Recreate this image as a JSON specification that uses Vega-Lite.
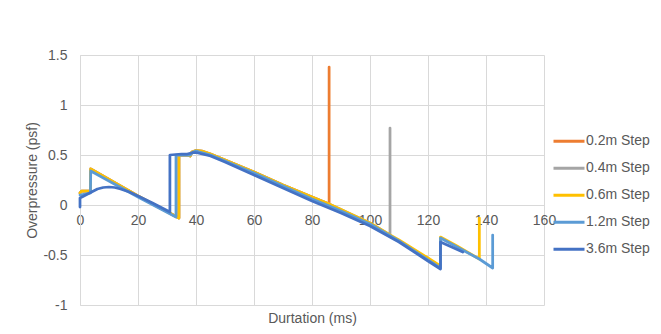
{
  "$schema": "https://vega.github.io/schema/vega-lite/v6.json",
  "autosize": {"type": "none"},
  "padding": {"left": 80, "top": 55, "right": 117, "bottom": 29},
  "width": 464,
  "height": 250,
  "background": "white",
  "config": {
    "view": {"stroke": null},
    "font": "Liberation Sans"
  },
  "data": {"values": [
    {"s":"0.2m Step","t":0,"p":0.12},{"s":"0.2m Step","t":0.5,"p":0.14},{"s":"0.2m Step","t":3.6,"p":0.14},{"s":"0.2m Step","t":3.7,"p":0.36},{"s":"0.2m Step","t":20,"p":0.09},{"s":"0.2m Step","t":34.1,"p":-0.13},{"s":"0.2m Step","t":34.1,"p":0.5},{"s":"0.2m Step","t":37,"p":0.5},{"s":"0.2m Step","t":38,"p":0.49},{"s":"0.2m Step","t":38.6,"p":0.53},{"s":"0.2m Step","t":40,"p":0.545},{"s":"0.2m Step","t":42,"p":0.54},{"s":"0.2m Step","t":45,"p":0.51},{"s":"0.2m Step","t":50,"p":0.45},{"s":"0.2m Step","t":60,"p":0.33},{"s":"0.2m Step","t":70,"p":0.2},{"s":"0.2m Step","t":80,"p":0.08},{"s":"0.2m Step","t":85.9,"p":0.01},{"s":"0.2m Step","t":85.9,"p":1.38},

    {"s":"0.4m Step","t":0,"p":0.12},{"s":"0.4m Step","t":0.5,"p":0.14},{"s":"0.4m Step","t":3.6,"p":0.14},{"s":"0.4m Step","t":3.7,"p":0.36},{"s":"0.4m Step","t":20,"p":0.09},{"s":"0.4m Step","t":34.1,"p":-0.13},{"s":"0.4m Step","t":34.1,"p":0.5},{"s":"0.4m Step","t":37,"p":0.5},{"s":"0.4m Step","t":38,"p":0.49},{"s":"0.4m Step","t":38.6,"p":0.53},{"s":"0.4m Step","t":40,"p":0.545},{"s":"0.4m Step","t":42,"p":0.54},{"s":"0.4m Step","t":45,"p":0.51},{"s":"0.4m Step","t":50,"p":0.45},{"s":"0.4m Step","t":60,"p":0.33},{"s":"0.4m Step","t":70,"p":0.2},{"s":"0.4m Step","t":80,"p":0.08},{"s":"0.4m Step","t":85.9,"p":0.01},{"s":"0.4m Step","t":90,"p":-0.045},{"s":"0.4m Step","t":100,"p":-0.18},{"s":"0.4m Step","t":106.9,"p":-0.3},{"s":"0.4m Step","t":106.9,"p":0.77},

    {"s":"0.6m Step","t":0,"p":0.12},{"s":"0.6m Step","t":0.5,"p":0.14},{"s":"0.6m Step","t":3.6,"p":0.14},{"s":"0.6m Step","t":3.7,"p":0.36},{"s":"0.6m Step","t":20,"p":0.09},{"s":"0.6m Step","t":34.1,"p":-0.13},{"s":"0.6m Step","t":34.1,"p":0.5},{"s":"0.6m Step","t":37,"p":0.5},{"s":"0.6m Step","t":38,"p":0.49},{"s":"0.6m Step","t":38.6,"p":0.53},{"s":"0.6m Step","t":40,"p":0.545},{"s":"0.6m Step","t":42,"p":0.54},{"s":"0.6m Step","t":45,"p":0.51},{"s":"0.6m Step","t":50,"p":0.45},{"s":"0.6m Step","t":60,"p":0.33},{"s":"0.6m Step","t":70,"p":0.2},{"s":"0.6m Step","t":80,"p":0.08},{"s":"0.6m Step","t":85.9,"p":0.01},{"s":"0.6m Step","t":90,"p":-0.045},{"s":"0.6m Step","t":100,"p":-0.18},{"s":"0.6m Step","t":106.9,"p":-0.3},{"s":"0.6m Step","t":110,"p":-0.35},{"s":"0.6m Step","t":120,"p":-0.53},{"s":"0.6m Step","t":124.3,"p":-0.61},{"s":"0.6m Step","t":124.3,"p":-0.32},{"s":"0.6m Step","t":130,"p":-0.41},{"s":"0.6m Step","t":137.7,"p":-0.54},{"s":"0.6m Step","t":137.7,"p":-0.13},

    {"s":"1.2m Step","t":0,"p":0.1},{"s":"1.2m Step","t":3.6,"p":0.12},{"s":"1.2m Step","t":3.7,"p":0.34},{"s":"1.2m Step","t":20,"p":0.08},{"s":"1.2m Step","t":33.1,"p":-0.12},{"s":"1.2m Step","t":33.1,"p":0.5},{"s":"1.2m Step","t":37,"p":0.5},{"s":"1.2m Step","t":38,"p":0.5},{"s":"1.2m Step","t":39,"p":0.53},{"s":"1.2m Step","t":40,"p":0.54},{"s":"1.2m Step","t":45,"p":0.5},{"s":"1.2m Step","t":50,"p":0.44},{"s":"1.2m Step","t":60,"p":0.32},{"s":"1.2m Step","t":70,"p":0.19},{"s":"1.2m Step","t":80,"p":0.06},{"s":"1.2m Step","t":86,"p":-0.01},{"s":"1.2m Step","t":90,"p":-0.06},{"s":"1.2m Step","t":100,"p":-0.19},{"s":"1.2m Step","t":110,"p":-0.36},{"s":"1.2m Step","t":120,"p":-0.55},{"s":"1.2m Step","t":124.3,"p":-0.63},{"s":"1.2m Step","t":124.3,"p":-0.33},{"s":"1.2m Step","t":130,"p":-0.42},{"s":"1.2m Step","t":137.7,"p":-0.54},{"s":"1.2m Step","t":142.3,"p":-0.63},{"s":"1.2m Step","t":142.3,"p":-0.3},

    {"s":"3.6m Step","t":0,"p":-0.02},{"s":"3.6m Step","t":0,"p":0.07},{"s":"3.6m Step","t":2,"p":0.1},{"s":"3.6m Step","t":4,"p":0.13},{"s":"3.6m Step","t":6,"p":0.16},{"s":"3.6m Step","t":8,"p":0.175},{"s":"3.6m Step","t":10,"p":0.18},{"s":"3.6m Step","t":12,"p":0.175},{"s":"3.6m Step","t":14,"p":0.16},{"s":"3.6m Step","t":17,"p":0.13},{"s":"3.6m Step","t":20,"p":0.09},{"s":"3.6m Step","t":25,"p":0.02},{"s":"3.6m Step","t":31,"p":-0.07},{"s":"3.6m Step","t":31,"p":0.5},{"s":"3.6m Step","t":35,"p":0.51},{"s":"3.6m Step","t":37,"p":0.51},{"s":"3.6m Step","t":39,"p":0.525},{"s":"3.6m Step","t":40,"p":0.525},{"s":"3.6m Step","t":45,"p":0.49},{"s":"3.6m Step","t":50,"p":0.43},{"s":"3.6m Step","t":60,"p":0.3},{"s":"3.6m Step","t":70,"p":0.17},{"s":"3.6m Step","t":80,"p":0.04},{"s":"3.6m Step","t":90,"p":-0.08},{"s":"3.6m Step","t":100,"p":-0.21},{"s":"3.6m Step","t":110,"p":-0.37},{"s":"3.6m Step","t":120,"p":-0.56},{"s":"3.6m Step","t":124.3,"p":-0.64},{"s":"3.6m Step","t":124.3,"p":-0.37},{"s":"3.6m Step","t":132,"p":-0.47}
  ]},
  "mark": {"type": "line", "strokeWidth": 2.75, "strokeCap": "round", "strokeJoin": "round"},
  "encoding": {
    "x": {
      "field": "t", "type": "quantitative",
      "scale": {"domain": [0, 160], "nice": false, "zero": false},
      "axis": {
        "values": [0, 20, 40, 60, 80, 100, 120, 140, 160],
        "offset": -100,
        "grid": true, "gridColor": "#D9D9D9", "gridWidth": 1,
        "domain": true, "domainColor": "#D9D9D9", "domainWidth": 1,
        "ticks": false,
        "labelFont": "Liberation Sans", "labelFontSize": 14, "labelColor": "#595959", "labelPadding": 8,
        "labelFlush": false,
        "title": "Durtation (ms)",
        "titleFont": "Liberation Sans", "titleFontSize": 14, "titleFontWeight": "normal", "titleColor": "#595959",
        "titleBaseline": "middle", "titleX": 232, "titleY": 113
      }
    },
    "y": {
      "field": "p", "type": "quantitative",
      "scale": {"domain": [-1, 1.5], "nice": false, "zero": false},
      "axis": {
        "values": [-1, -0.5, 0, 0.5, 1, 1.5],
        "labelExpr": "'' + datum.value",
        "grid": true, "gridColor": "#D9D9D9", "gridWidth": 1,
        "domain": true, "domainColor": "#D9D9D9",
        "ticks": false,
        "labelFont": "Liberation Sans", "labelFontSize": 14, "labelColor": "#595959", "labelPadding": 13,
        "labelFlush": false,
        "title": "Overpressure (psf)",
        "titleFont": "Liberation Sans", "titleFontSize": 14, "titleFontWeight": "normal", "titleColor": "#595959",
        "titleAngle": -90, "titleBaseline": "middle", "titleAlign": "center", "titleX": -48, "titleY": 125
      }
    },
    "color": {
      "field": "s", "type": "nominal",
      "scale": {
        "domain": ["0.2m Step", "0.4m Step", "0.6m Step", "1.2m Step", "3.6m Step"],
        "range": ["#ED7D31", "#A5A5A5", "#FFC000", "#5B9BD5", "#4472C4"]
      },
      "legend": {
        "title": null,
        "orient": "none",
        "legendX": 472,
        "legendY": 73,
        "padding": 0,
        "symbolType": "stroke",
        "symbolSize": 961,
        "symbolStrokeWidth": 3,
        "clipHeight": 26.5,
        "rowPadding": -0.5,
        "labelOffset": 0,
        "labelFont": "Liberation Sans", "labelFontSize": 14, "labelColor": "#595959"
      }
    },
    "order": {"value": null}
  }
}
